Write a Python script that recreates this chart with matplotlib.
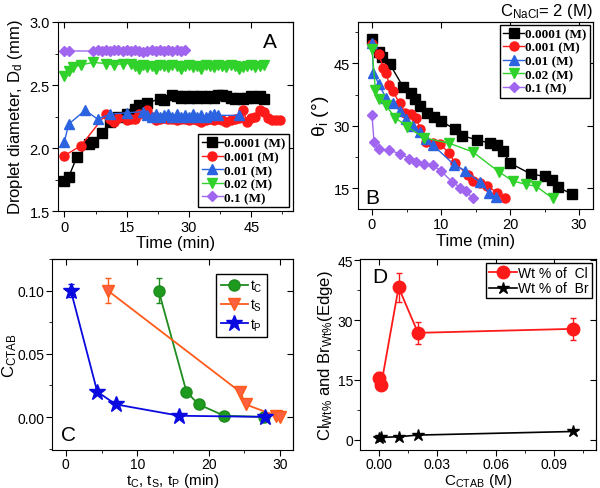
import matplotlib
matplotlib.use("Agg")
import matplotlib.pyplot as plt
from matplotlib.ticker import AutoMinorLocator

plt.rcParams['font.family'] = ['Liberation Sans', 'DejaVu Sans']
plt.rcParams['mathtext.default'] = 'regular'

# ---- panel A : droplet diameter vs time ----
tA_1 = [0, 1, 3, 6, 7, 9, 11, 13, 15, 17, 18, 20, 23, 24, 26, 27, 28, 29, 30, 31, 32, 33, 34, 35,
        36, 37, 38, 39, 40, 41, 42, 43, 44, 45, 46, 47, 48]
dA_1 = [1.74, 1.77, 1.93, 2.03, 2.05, 2.12, 2.21, 2.25, 2.27, 2.31, 2.34, 2.36, 2.39, 2.38, 2.42,
        2.41, 2.40, 2.41, 2.40, 2.41, 2.40, 2.41, 2.40, 2.41, 2.40, 2.42, 2.42, 2.41, 2.40, 2.39,
        2.40, 2.39, 2.40, 2.41, 2.40, 2.41, 2.39]
tA_2 = [0, 4, 10, 11, 12, 13, 15, 16, 17, 18, 20, 21, 22, 23, 24, 25, 26, 27, 28, 29, 30, 31, 32,
        33, 34, 35, 36, 37, 38, 39, 40, 41, 42, 43, 44, 45, 46, 47, 48, 49, 50, 51, 52]
dA_2 = [1.94, 2.02, 2.27, 2.23, 2.21, 2.24, 2.22, 2.23, 2.23, 2.27, 2.30, 2.25, 2.22, 2.23, 2.24,
        2.23, 2.23, 2.22, 2.23, 2.23, 2.22, 2.23, 2.22, 2.21, 2.22, 2.23, 2.22, 2.23, 2.22, 2.21,
        2.22, 2.23, 2.24, 2.30, 2.21, 2.24, 2.25, 2.30, 2.29, 2.24, 2.22, 2.22, 2.22]
tA_3 = [0, 1, 5, 8, 11, 15, 19, 20, 21, 22, 23, 24, 25, 26, 27, 28, 29, 30, 31, 32, 33, 34, 35,
        36, 37, 42]
dA_3 = [2.05, 2.19, 2.30, 2.23, 2.27, 2.28, 2.29, 2.26, 2.25, 2.27, 2.25, 2.26, 2.27, 2.25, 2.27,
        2.25, 2.26, 2.25, 2.27, 2.25, 2.26, 2.25, 2.26, 2.27, 2.26, 2.26]
tA_4 = [0, 1, 2, 4, 7, 10, 12, 14, 16, 17, 18, 19, 20, 21, 22, 23, 24, 25, 26, 27, 28, 29, 30, 31,
        32, 33, 34, 35, 36, 37, 38, 39, 40, 41, 42, 43, 44, 45, 46, 47, 48]
dA_4 = [2.57, 2.61, 2.64, 2.66, 2.68, 2.67, 2.66, 2.67, 2.67, 2.65, 2.63, 2.66, 2.64, 2.65, 2.63,
        2.66, 2.65, 2.64, 2.66, 2.65, 2.63, 2.65, 2.66, 2.64, 2.65, 2.63, 2.66, 2.65, 2.64, 2.66,
        2.65, 2.64, 2.66, 2.65, 2.63, 2.64, 2.65, 2.66, 2.64, 2.65, 2.66]
tA_5 = [0, 1, 7, 8, 9, 10, 11, 12, 13, 14, 15, 16, 17, 18, 19, 20, 21, 22, 23, 24, 25, 26, 27,
        28, 29]
dA_5 = [2.77, 2.77, 2.77, 2.78, 2.77, 2.78, 2.77, 2.78, 2.78, 2.77, 2.78, 2.77, 2.78, 2.77, 2.76,
        2.77, 2.78, 2.77, 2.78, 2.77, 2.78, 2.77, 2.78, 2.77, 2.78]

# ---- panel B : contact angle vs time ----
tB_1 = [0, 1, 1.5, 2.6, 4.5, 5.6, 6.3, 7, 8, 9, 10, 12, 13.1, 15.2, 17.1, 18.1, 19, 20, 23, 25,
        26.1, 27, 29]
aB_1 = [50.9, 47.7, 46.5, 44.8, 39.4, 38.0, 36.4, 34.7, 33.1, 32.0, 31.1, 29.2, 27.6, 26.6, 25.8,
        25.4, 23.9, 21.0, 18.4, 17.8, 17.0, 15.2, 13.5]
tB_2 = [0, 1, 1.6, 2.1, 2.5, 3, 4, 4.8, 5.6, 6.4, 7, 7.8, 8.8, 9.8, 11.2, 12, 13.9, 14.6, 15.6,
        16.7, 18.1, 19.3]
aB_2 = [49.8, 47.3, 44.0, 42.6, 39.7, 38.4, 35.4, 33.1, 32.8, 31.8, 29.3, 26.0, 25.8, 25.5, 23.5,
        21.0, 18.2, 16.6, 16.1, 15.5, 13.9, 12.7]
tB_3 = [0, 0.2, 1, 2, 3.1, 4, 4.9, 5.9, 6.9, 7.8, 8.8, 11.9, 13.5, 15.6, 17, 18]
aB_3 = [50.0, 42.8, 40.0, 36.8, 35.4, 33.6, 31.6, 30.0, 28.4, 26.8, 25.4, 20.6, 19.2, 16.4, 13.8,
        12.8]
tB_4 = [0, 0.5, 1, 2, 3.4, 5.1, 7.5, 11.2, 14.6, 18.4, 20.4, 22.3, 23.8, 26.2]
aB_4 = [48.5, 38.6, 36.4, 34.9, 31.9, 29.8, 27.1, 25.8, 23.7, 18.9, 16.7, 15.9, 15.4, 12.5]
tB_5 = [0, 0.3, 1, 2.5, 4, 5.4, 6.4, 7.6, 8.8, 10, 11.6, 12.8, 13.6, 14.6]
aB_5 = [32.5, 26.0, 24.3, 24.1, 23.3, 22.1, 21.3, 20.9, 20.5, 19.1, 16.5, 15.1, 14.2, 12.6]

conc_labels = ['0.0001 (M)', '0.001 (M)', '0.01 (M)', '0.02 (M)', '0.1 (M)']

# ---- panel C : characteristic times vs CTAB ----
tC = [13.0, 16.9, 18.6, 22.2, 27.8]
cC = [0.10, 0.02, 0.01, 0.001, 0.0001]
errC = [0.01, 0, 0, 0, 0]
tS = [5.9, 24.4, 25.2, 29.4, 30.0]
cS = [0.10, 0.02, 0.01, 0.001, 0.0001]
errS = [0.01, 0, 0, 0, 0]
tP = [0.7, 4.4, 7.0, 15.9, 27.9]
cP = [0.10, 0.02, 0.01, 0.001, 0.0001]
errP = [0.005, 0, 0, 0, 0]

# ---- panel D : Cl and Br wt% at the edge ----
ctab = [0.0001, 0.001, 0.01, 0.02, 0.1]
cl_wt = [15.6, 13.7, 38.2, 26.8, 27.8]
cl_err = [1.3, 1.0, 3.6, 2.7, 2.7]
br_wt = [0.4, 0.6, 0.8, 1.2, 2.1]

colors = ['black', '#ff1a1a', '#2b63e0', '#2fd12a', '#a066f0']
markers = ['s', 'o', '^', 'v', 'D']

fig = plt.figure(figsize=(6, 4.89), dpi=100)
axA = fig.add_axes([0.097, 0.566, 0.391, 0.387])
axB = fig.add_axes([0.597, 0.571, 0.391, 0.382])
axC = fig.add_axes([0.086, 0.078, 0.402, 0.390])
axD = fig.add_axes([0.600, 0.078, 0.393, 0.390])


def style(ax, size=10.5, pad=2):
    ax.tick_params(which='both', direction='out', top=False, right=False, labelsize=size, pad=pad)
    ax.tick_params(which='major', length=4)
    ax.tick_params(which='minor', length=2)
    ax.xaxis.set_minor_locator(AutoMinorLocator(2))
    ax.yaxis.set_minor_locator(AutoMinorLocator(2))
    sx = ax.secondary_xaxis('top')
    sx.set_xticks(ax.get_xticks())
    sx.tick_params(direction='in', labeltop=False, length=4)
    sy = ax.secondary_yaxis('right')
    sy.set_yticks(ax.get_yticks())
    sy.tick_params(direction='in', labelright=False, length=4)


legend_font = {'family': 'Liberation Serif', 'weight': 'bold', 'size': 9.5}

# A
for t, d, c, m, lab in zip([tA_1, tA_2, tA_3, tA_4, tA_5], [dA_1, dA_2, dA_3, dA_4, dA_5],
                           colors, markers, conc_labels):
    axA.plot(t, d, color=c, marker=m, ms=6.5 if m != 'D' else 5.5, lw=1, label=lab)
axA.set_xlim(-1.5, 55)
axA.set_ylim(1.5, 3.0)
axA.set_xticks([0, 15, 30, 45])
axA.set_yticks([1.5, 2.0, 2.5, 3.0])
axA.set_xlabel('Time (min)', fontsize=12, labelpad=1)
axA.set_ylabel('Droplet diameter, D$_d$ (mm)', fontsize=12, labelpad=3)
axA.text(0.93, 0.87, 'A', transform=axA.transAxes, fontsize=15, ha='right')
axA.legend(loc='lower right', prop=legend_font, handlelength=1.6, handletextpad=0.1,
           borderpad=0.25, labelspacing=0.1, fancybox=False, edgecolor='black',
           borderaxespad=0.3, framealpha=1)
style(axA)

# B
for t, a, c, m, lab in zip([tB_1, tB_2, tB_3, tB_4, tB_5], [aB_1, aB_2, aB_3, aB_4, aB_5],
                           colors, markers, conc_labels):
    axB.plot(t, a, color=c, marker=m, ms=6.5 if m != 'D' else 5.5, lw=1, label=lab)
axB.set_xlim(-2, 32)
axB.set_ylim(10, 55)
axB.set_xticks([0, 10, 20, 30])
axB.set_yticks([15, 30, 45])
axB.set_xlabel('Time (min)', fontsize=12, labelpad=1)
axB.set_ylabel('θ$_i$ (°)', fontsize=14, labelpad=2)
axB.text(0.03, 0.03, 'B', transform=axB.transAxes, fontsize=15)
fig.text(0.988, 0.995, 'C$_{NaCl}$= 2 (M)', fontsize=12, ha='right', va='top')
axB.legend(loc='upper right', prop=legend_font, handlelength=1.6, handletextpad=0.1,
           borderpad=0.25, labelspacing=0.1, fancybox=False, edgecolor='black',
           borderaxespad=0.2, framealpha=1)
style(axB)

# C
for t, cc, err, col, mfc, m, ms, lab in [(tC, cC, errC, '#1f8c1f', '#1e9a1e', 'o', 8, 't$_C$'),
                                        (tS, cS, errS, '#ff5a1a', '#ff6040', 'v', 9, 't$_S$'),
                                        (tP, cP, errP, '#0a0ae0', '#0a0ae0', '*', 12, 't$_P$')]:
    axC.errorbar(t, cc, yerr=err, fmt='none', ecolor=col, elinewidth=1, capsize=2)
    axC.plot(t, cc, color=col, marker=m, ms=ms, mfc=mfc, lw=1.3, label=lab)
axC.set_xlim(-2, 31.8)
axC.set_ylim(-0.026, 0.125)
axC.set_xticks([0, 10, 20, 30])
axC.set_yticks([0.0, 0.05, 0.10])
axC.set_yticklabels(['0.00', '0.05', '0.10'])
axC.set_xlabel('t$_C$, t$_S$, t$_P$ (min)', fontsize=11)
axC.xaxis.set_label_coords(0.5, -0.11)
axC.set_ylabel('C$_{CTAB}$', fontsize=12)
axC.yaxis.set_label_coords(-0.135, 0.5)
axC.text(0.04, 0.05, 'C', transform=axC.transAxes, fontsize=15)
axC.legend(loc='upper right', fontsize=10, handlelength=2, handletextpad=0.1, borderpad=0.3,
           labelspacing=0.2, fancybox=False, edgecolor='black', bbox_to_anchor=(0.92, 0.96),
           framealpha=1)
style(axC, 10, 1)

# D
axD.errorbar(ctab, cl_wt, yerr=cl_err, fmt='none', ecolor='#ff1a1a', elinewidth=1, capsize=2)
axD.plot(ctab, cl_wt, color='#ff1a1a', marker='o', ms=9, lw=1.3, label='Wt % of  Cl')
axD.plot(ctab, br_wt, color='black', marker='*', ms=9, lw=1.2, label='Wt % of  Br')
axD.set_xlim(-0.0099, 0.1117)
axD.set_ylim(-2.5, 45.25)
axD.set_xticks([0.0, 0.03, 0.06, 0.09])
axD.set_xticklabels(['0.00', '0.03', '0.06', '0.09'])
axD.set_yticks([0, 15, 30, 45])
axD.set_xlabel('C$_{CTAB}$ (M)', fontsize=11)
axD.xaxis.set_label_coords(0.5, -0.11)
axD.set_ylabel('Cl$_{Wt\\%}$ and Br$_{Wt\\%}$(Edge)', fontsize=12, labelpad=2)
axD.text(0.05, 0.88, 'D', transform=axD.transAxes, fontsize=15)
axD.legend(loc='upper right', fontsize=10, handlelength=2, handletextpad=0.1, borderpad=0.2,
           labelspacing=0.1, fancybox=False, edgecolor='black', borderaxespad=0.3,
           framealpha=1)
style(axD, 10, 1)

fig.savefig('out.png', dpi=100)
